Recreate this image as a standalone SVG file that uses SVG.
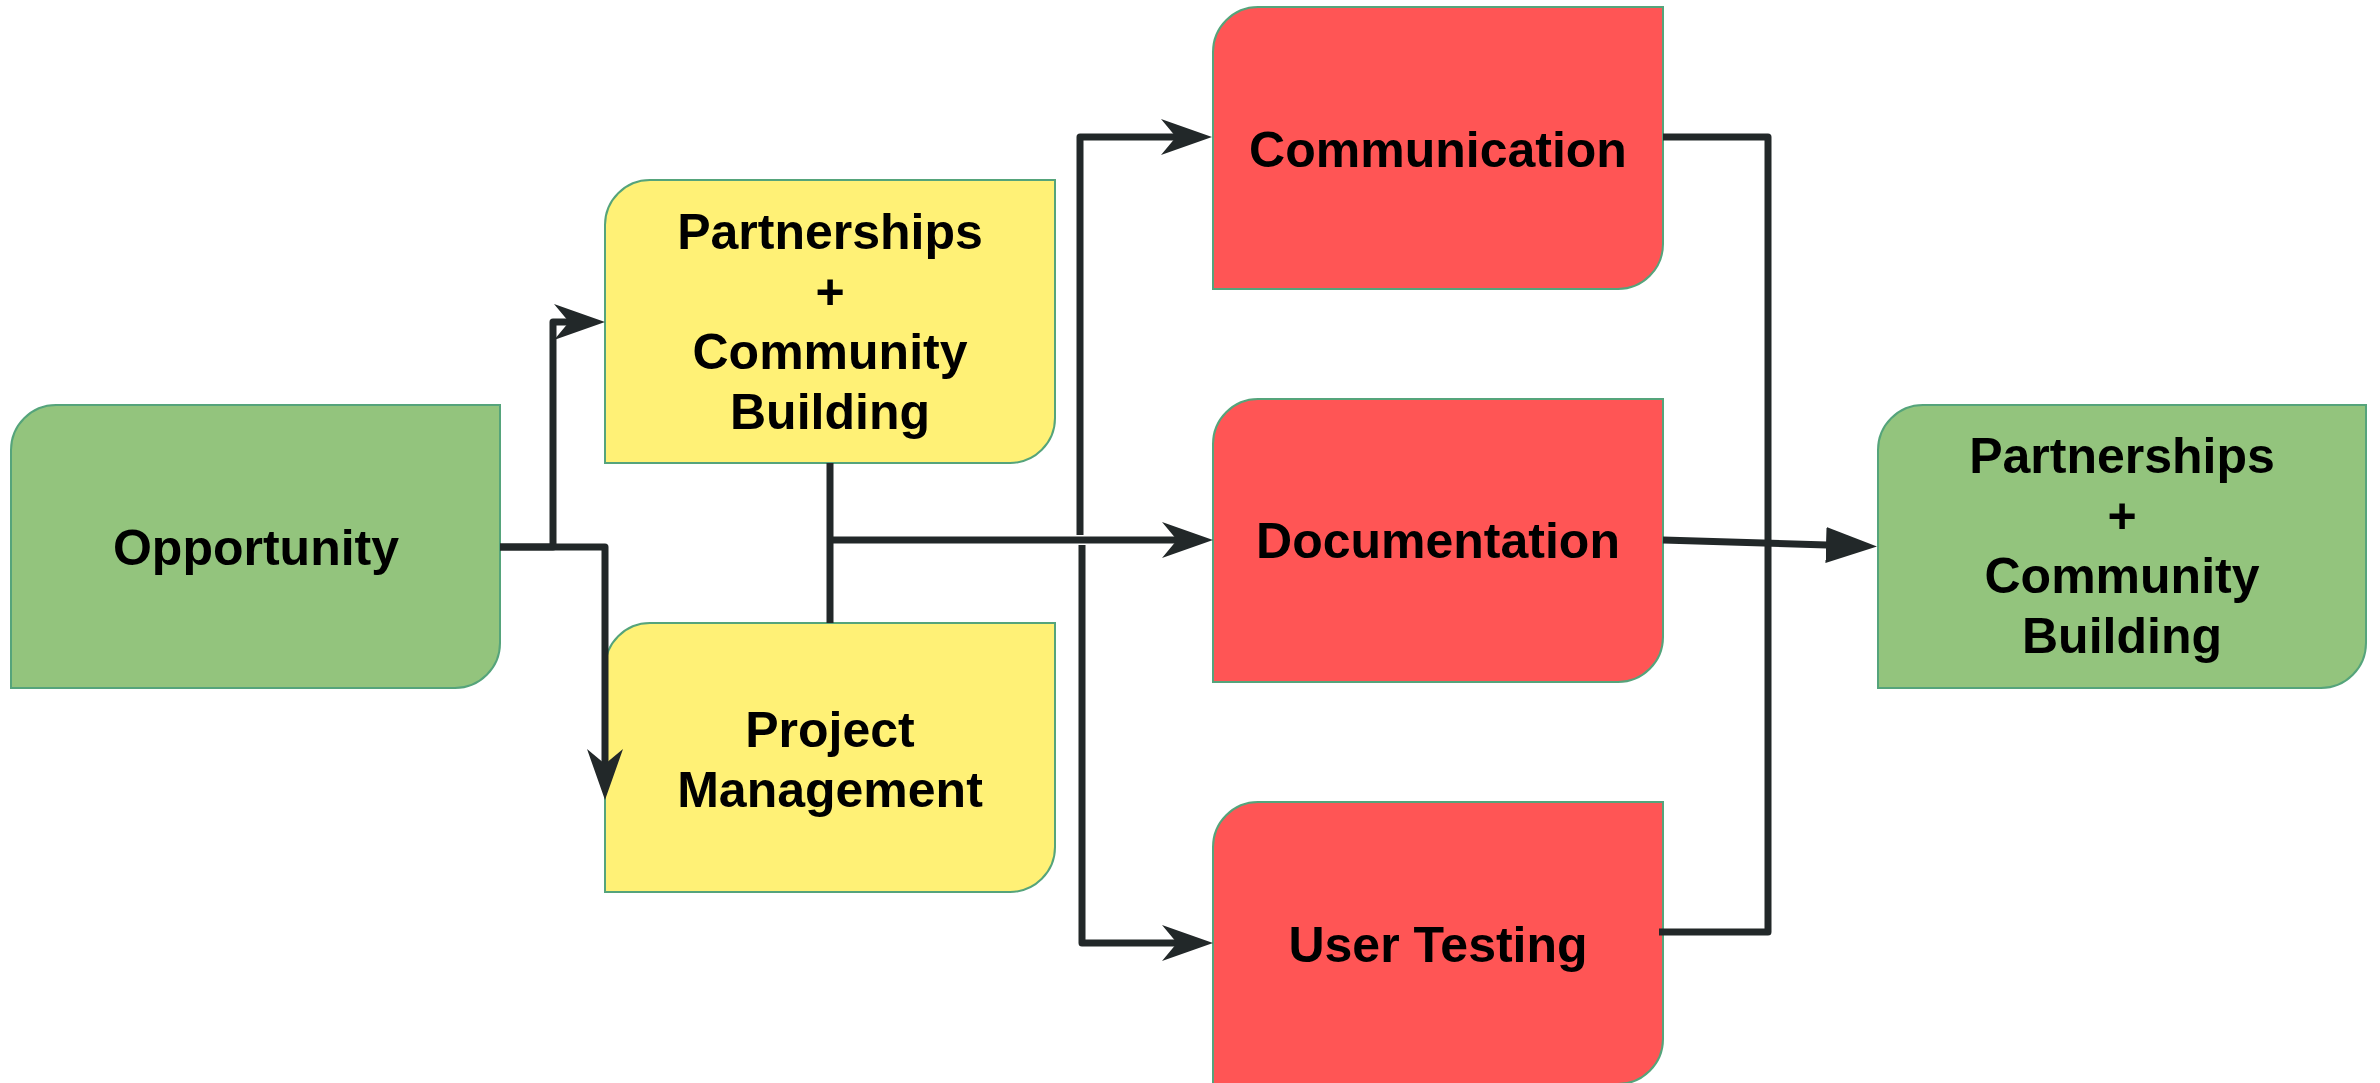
<svg xmlns="http://www.w3.org/2000/svg" width="2380" height="1083" viewBox="0 0 2380 1083">
<style>
.node{stroke:#55a47b;stroke-width:2}
.green{fill:#93c47d}
.yellow{fill:#fff176}
.red{fill:#ff5555}
.lbl{font-family:"Liberation Sans",Arial,sans-serif;font-weight:bold;font-size:50px;fill:#000;text-anchor:middle}
.edge{fill:none;stroke:#222829;stroke-width:7;stroke-linejoin:round}
</style>
<defs>
<marker id="open" markerUnits="userSpaceOnUse" markerWidth="52" markerHeight="38" viewBox="0 0 52 38" refX="15" refY="19" orient="auto">
<path d="M0,1 L51,19 L0,37 L15,19 Z" fill="#222829"/>
</marker>
<marker id="block" markerUnits="userSpaceOnUse" markerWidth="52" markerHeight="38" viewBox="0 0 52 38" refX="1" refY="19" orient="auto">
<path d="M0,1 L51,19 L0,37 Z" fill="#222829"/>
</marker>
</defs>
<g id="opportunity">
<path class="node green" d="M56,405 H500 V643 A45,45 0 0 1 455,688 H11 V450 A45,45 0 0 1 56,405 Z"/>
<text class="lbl" x="256" y="565">Opportunity</text>
</g>
<g id="partnerships-yellow">
<path class="node yellow" d="M650,180 H1055 V418 A45,45 0 0 1 1010,463 H605 V225 A45,45 0 0 1 650,180 Z"/>
<text class="lbl" x="830" y="249">Partnerships</text>
<text class="lbl" x="830" y="309">+</text>
<text class="lbl" x="830" y="369">Community</text>
<text class="lbl" x="830" y="429">Building</text>
</g>
<g id="project-management">
<path class="node yellow" d="M650,623 H1055 V847 A45,45 0 0 1 1010,892 H605 V668 A45,45 0 0 1 650,623 Z"/>
<text class="lbl" x="830" y="747">Project</text>
<text class="lbl" x="830" y="807">Management</text>
</g>
<g id="communication">
<path class="node red" d="M1258,7 H1663 V244 A45,45 0 0 1 1618,289 H1213 V52 A45,45 0 0 1 1258,7 Z"/>
<text class="lbl" x="1438" y="167">Communication</text>
</g>
<g id="documentation">
<path class="node red" d="M1258,399 H1663 V637 A45,45 0 0 1 1618,682 H1213 V444 A45,45 0 0 1 1258,399 Z"/>
<text class="lbl" x="1438" y="558">Documentation</text>
</g>
<g id="user-testing">
<path class="node red" d="M1258,802 H1663 V1039 A45,45 0 0 1 1618,1084 H1213 V847 A45,45 0 0 1 1258,802 Z"/>
<text class="lbl" x="1438" y="962">User Testing</text>
</g>
<g id="partnerships-green">
<path class="node green" d="M1923,405 H2366 V643 A45,45 0 0 1 2321,688 H1878 V450 A45,45 0 0 1 1923,405 Z"/>
<text class="lbl" x="2122" y="473">Partnerships</text>
<text class="lbl" x="2122" y="533">+</text>
<text class="lbl" x="2122" y="593">Community</text>
<text class="lbl" x="2122" y="653">Building</text>
</g>
<g id="connectors">
<path class="edge" d="M500,547 H553 V322 H569" marker-end="url(#open)"/>
<path class="edge" d="M500,547 H605 V764" marker-end="url(#open)"/>
<path class="edge" d="M830,463 V623"/>
<path class="edge" d="M830,540 H1177" marker-end="url(#open)"/>
<path class="edge" d="M1080,535 V137 H1176" marker-end="url(#open)"/>
<path class="edge" d="M1082,545 V943 H1177" marker-end="url(#open)"/>
<path class="edge" d="M1663,137 H1768 V932 H1659"/>
<path class="edge" d="M1663,540 L1827,545" marker-end="url(#block)"/>
</g>
</svg>
